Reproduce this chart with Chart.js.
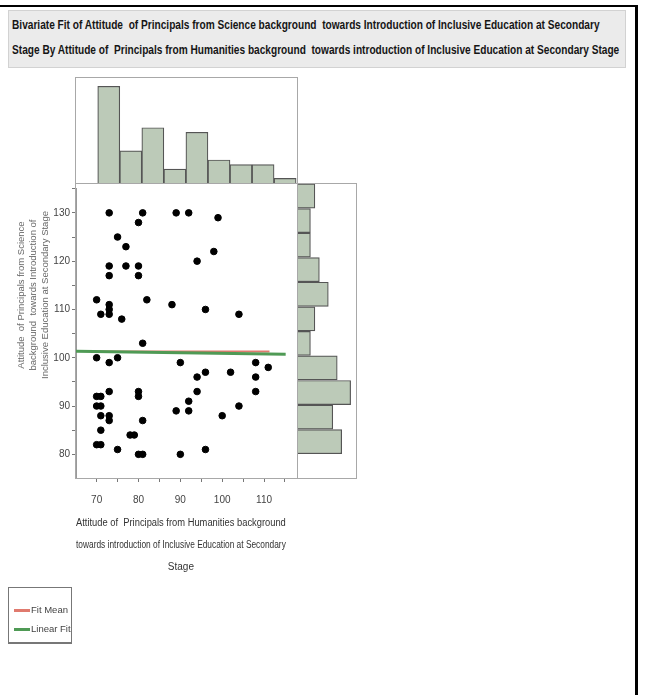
<!DOCTYPE html>
<html>
<head>
<meta charset="utf-8">
<script src="https://cdn.jsdelivr.net/npm/chart.js@4"></script>
<style>
  body { margin: 0; background: #fff; width: 653px; height: 695px; position: relative; overflow: hidden; }
  .abs { position: absolute; }
  .frame { position: absolute; border: 1px solid #a8a8a8; box-sizing: border-box; pointer-events: none; }
  #title {
    left: 8px; top: 10px; width: 618px; height: 58px; box-sizing: border-box;
    background: #ebebeb; border: 1px solid #d2d2d2; overflow: hidden;
  }
  #title span {
    display: block; transform: scaleX(0.75); transform-origin: 0 0;
    font: bold 13.5px "Liberation Sans", sans-serif; color: #151515;
    line-height: 25px; padding: 1px 0 0 4px; white-space: nowrap;
  }
  #ytitle {
    width: 200px; left: -67px; top: 277px; transform: rotate(-90deg); text-align: center;
    font: 9.5px "Liberation Sans", sans-serif; color: #666; line-height: 12px; white-space: nowrap;
  }
  #legend {
    left: 8px; top: 587px; width: 64px; height: 57px; box-sizing: border-box;
    border: 1px solid #777; border-bottom-width: 2px;
    font: 9.5px "Liberation Sans Narrow", sans-serif; color: #444;
  }
  .leg { position: absolute; left: 5px; white-space: nowrap; line-height: 12px; }
  .leg i { display: inline-block; width: 16px; height: 3px; vertical-align: middle; margin-right: 1px; }
</style>
</head>
<body>
<div class="abs" style="left:0;top:5px;width:638px;height:2px;background:#000"></div>
<div class="abs" style="left:635px;top:5px;width:3px;height:690px;background:#000"></div>

<div id="title" class="abs"><span>Bivariate Fit of Attitude&nbsp; of Principals from Science background&nbsp; towards Introduction of Inclusive Education at Secondary<br>Stage By Attitude of&nbsp; Principals from Humanities background&nbsp; towards introduction of Inclusive Education at Secondary Stage</span></div>

<canvas id="top-hist" class="abs" width="221" height="105" style="left:76px;top:78px"></canvas>
<canvas id="right-hist" class="abs" width="59" height="295" style="left:297px;top:183px"></canvas>
<canvas id="scatter" class="abs" width="297" height="410" style="left:0;top:180px"></canvas>

<div class="frame" style="left:75px;top:77px;width:223px;height:107px"></div>
<div class="frame" style="left:297px;top:183px;width:60px;height:296px"></div>
<div class="frame" style="left:75px;top:183px;width:223px;height:296px"></div>

<div id="ytitle" class="abs">Attitude&nbsp; of Principals from Science<br>background&nbsp; towards Introduction of<br>Inclusive Education at Secondary Stage</div>

<div id="legend" class="abs">
  <div class="leg" style="top:16px"><i style="background:#e07a6e"></i>Fit Mean</div>
  <div class="leg" style="top:35px"><i style="background:#4f9a55"></i>Linear Fit</div>
</div>

<script>
// Datos
const humanitiesScores = [73, 81, 89, 92, 99, 80, 75, 77, 98, 94, 73, 77, 80, 73, 80, 70, 82, 73, 73, 73, 71, 88, 96, 104, 76, 81,
                          70, 73, 75, 90, 94, 96, 94, 102, 108, 108, 108, 111, 70, 71, 70, 71, 71, 71, 70, 71,
                          73, 73, 73, 75, 78, 79, 80, 80, 81, 80, 81, 89, 92, 92, 90, 96, 100, 104];
const scienceScores =    [130, 130, 130, 130, 129, 128, 125, 123, 122, 120, 119, 119, 119, 117, 117, 112, 112, 111, 110, 109, 109, 111, 110, 109, 108, 103,
                          100, 99, 100, 99, 96, 97, 93, 97, 99, 96, 93, 98, 92, 92, 90, 90, 88, 85, 82, 82,
                          93, 88, 87, 81, 84, 84, 93, 92, 87, 80, 80, 89, 91, 89, 80, 81, 88, 90];

// Histograma superior (humanidades), bins de 5
const xBinCenters = [72.5, 77.5, 82.5, 87.5, 92.5, 97.5, 102.5, 107.5, 112.5];
const xBinCounts  = [21, 7, 12, 3, 11, 5, 4, 4, 1];

// Histograma derecho (ciencias), bins de 5
const yBinCenters = [82.5, 87.5, 92.5, 97.5, 102.5, 107.5, 112.5, 117.5, 122.5, 127.5, 132.5];
const yBinCounts  = [10, 8, 12, 9, 3, 4, 7, 5, 3, 3, 4];

// Ajustes
const fitMeanValue = 101.3;
const fitMeanRange = [69, 111.3];
const linearFitX = [65.07, 115.2];
const linearFitY = [101.35, 100.75];

const X_MIN = 65.07, X_MAX = 115.2;
const Y_MIN = 75.1,  Y_MAX = 135.15;

const histFill = '#bccab8';
const histLine = '#555';

new Chart(document.getElementById('top-hist'), {
    type: 'bar',
    data: {
        datasets: [{
            data: xBinCenters.map((c, i) => ({ x: c, y: xBinCounts[i] })),
            backgroundColor: histFill,
            borderColor: histLine,
            borderWidth: 1.2,
            barPercentage: 1,
            categoryPercentage: 1
        }]
    },
    options: {
        responsive: false,
        animation: false,
        layout: { padding: 0 },
        plugins: { legend: { display: false }, tooltip: { enabled: false } },
        scales: {
            x: { type: 'linear', min: X_MIN, max: X_MAX, offset: false, display: false },
            y: { min: 0, max: 22.8, display: false }
        }
    }
});

new Chart(document.getElementById('right-hist'), {
    type: 'bar',
    data: {
        datasets: [{
            data: yBinCenters.map((c, i) => ({ x: yBinCounts[i], y: c })),
            backgroundColor: histFill,
            borderColor: histLine,
            borderWidth: 1.2,
            barPercentage: 1,
            categoryPercentage: 1
        }]
    },
    options: {
        indexAxis: 'y',
        responsive: false,
        animation: false,
        layout: { padding: 0 },
        plugins: { legend: { display: false }, tooltip: { enabled: false } },
        scales: {
            y: { type: 'linear', min: Y_MIN, max: Y_MAX, offset: false, display: false },
            x: { min: 0, max: 13.2, display: false }
        }
    }
});

const tickFont = { family: '"Liberation Sans Narrow", sans-serif', size: 10 };

new Chart(document.getElementById('scatter'), {
    type: 'scatter',
    data: {
        datasets: [
            {
                type: 'line',
                label: 'Linear Fit',
                data: linearFitX.map((x, i) => ({ x: x, y: linearFitY[i] })),
                borderColor: '#4f9a55',
                borderWidth: 3,
                pointRadius: 0,
                order: 1
            },
            {
                type: 'line',
                label: 'Fit Mean',
                data: fitMeanRange.map(x => ({ x: x, y: fitMeanValue })),
                borderColor: '#e07a6e',
                borderWidth: 2,
                pointRadius: 0,
                order: 2
            },
            {
                label: 'Datos',
                data: humanitiesScores.map((x, i) => ({ x: x, y: scienceScores[i] })),
                backgroundColor: '#000',
                borderColor: '#000',
                pointRadius: 3.3,
                order: 0
            }
        ]
    },
    options: {
        responsive: false,
        animation: false,
        layout: { padding: { top: 3, left: 0, right: 0, bottom: 0 } },
        plugins: { legend: { display: false }, tooltip: { enabled: false } },
        scales: {
            x: {
                type: 'linear', min: X_MIN, max: X_MAX,
                afterFit: s => { s.height = 112; },
                border: { display: true, color: '#999' },
                grid: { drawOnChartArea: false, drawTicks: true, tickLength: 4, color: '#777' },
                ticks: {
                    stepSize: 5, includeBounds: false, autoSkip: false, maxRotation: 0,
                    padding: 12, color: '#444', font: tickFont,
                    callback: v => (Math.round(v) % 10 === 0 ? Math.round(v) : '')
                },
                title: {
                    display: true,
                    text: ['Attitude of  Principals from Humanities background',
                           'towards introduction of Inclusive Education at Secondary',
                           'Stage'],
                    color: '#333',
                    font: { family: '"Liberation Sans Narrow", sans-serif', size: 10, lineHeight: 2.2 },
                    padding: { top: 0, bottom: 12 }
                }
            },
            y: {
                type: 'linear', min: Y_MIN, max: Y_MAX,
                afterFit: s => { s.width = 76; },
                border: { display: true, color: '#999' },
                grid: { drawOnChartArea: false, drawTicks: true, tickLength: 4, color: '#777' },
                ticks: {
                    stepSize: 5, includeBounds: false, autoSkip: false,
                    padding: 2, color: '#444', font: tickFont,
                    callback: v => (Math.round(v) % 10 === 0 ? Math.round(v) : '')
                }
            }
        }
    }
});
</script>
</body>
</html>
